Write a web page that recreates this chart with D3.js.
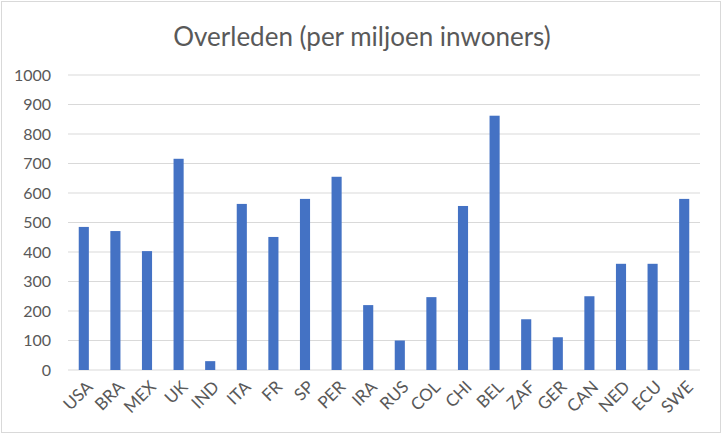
<!DOCTYPE html>
<html lang="en">
<head>
    <meta charset="utf-8">
    <script src="https://d3js.org/d3.v7.min.js"></script>
    <style>
        body { margin: 0; background: #fff; }
        text { font-family: Lato, "Liberation Sans", sans-serif; fill: #595959; }
    </style>
</head>
<body>
<script>
    // data
    const countries = ["USA", "BRA", "MEX", "UK", "IND", "ITA", "FR", "SP", "PER", "IRA",
                       "RUS", "COL", "CHI", "BEL", "ZAF", "GER", "CAN", "NED", "ECU", "SWE"];
    const deaths = [485, 471, 403, 716, 30, 563, 451, 580, 655, 220,
                    100, 247, 556, 862, 172, 111, 250, 360, 360, 580];
    const yTicks = [0, 100, 200, 300, 400, 500, 600, 700, 800, 900, 1000];
    const title = "Overleden (per miljoen inwoners)";

    const W = 722, H = 434;
    const margin = {top: 75, right: 22, bottom: 64, left: 68};
    const width = W - margin.left - margin.right;
    const height = 370 - margin.top;

    const svg = d3.select("body").append("svg")
        .attr("width", W)
        .attr("height", H);

    // outer border of the chart area
    svg.append("rect")
        .attr("x", 1.5).attr("y", 1.5)
        .attr("width", W - 3).attr("height", H - 3)
        .attr("fill", "#fff")
        .attr("stroke", "#d9d9d9")
        .attr("stroke-width", 1);

    svg.append("text")
        .attr("x", 362)
        .attr("y", 46)
        .attr("text-anchor", "middle")
        .style("font-size", "26px")
        .text(title);

    const g = svg.append("g")
        .attr("transform", "translate(" + margin.left + "," + margin.top + ")");

    const x = d3.scaleBand()
        .domain(countries)
        .range([0, width])
        .paddingInner(0.68)
        .paddingOuter(0.34);

    const y = d3.scaleLinear()
        .domain([0, 1000])
        .range([height, 0]);

    // grid lines
    g.append("g")
        .selectAll("line")
        .data(yTicks)
        .join("line")
        .attr("x1", 0)
        .attr("x2", width)
        .attr("y1", d => y(d))
        .attr("y2", d => y(d))
        .attr("stroke", "#d9d9d9")
        .attr("stroke-width", 1);

    // y axis labels
    const yAxis = g.append("g")
        .call(d3.axisLeft(y).tickValues(yTicks).tickFormat(d3.format("d")).tickSize(0).tickPadding(17));
    yAxis.select(".domain").remove();
    yAxis.selectAll("text")
        .style("font-size", "16px")
        .attr("fill", "#595959");

    // bars
    g.selectAll(".bar")
        .data(countries)
        .join("rect")
        .attr("class", "bar")
        .attr("x", d => x(d))
        .attr("width", x.bandwidth())
        .attr("y", (d, i) => y(deaths[i]))
        .attr("height", (d, i) => height - y(deaths[i]))
        .attr("fill", "#4472c4");

    // x axis labels, rotated
    const xAxis = g.append("g")
        .attr("transform", "translate(0," + height + ")")
        .call(d3.axisBottom(x).tickSize(0).tickPadding(0));
    xAxis.select(".domain").remove();
    xAxis.selectAll("text")
        .style("font-size", "17px")
        .attr("fill", "#595959")
        .attr("text-anchor", "end")
        .attr("dy", null)
        .attr("transform", "translate(10,18) rotate(-45)");
</script>
</body>
</html>
